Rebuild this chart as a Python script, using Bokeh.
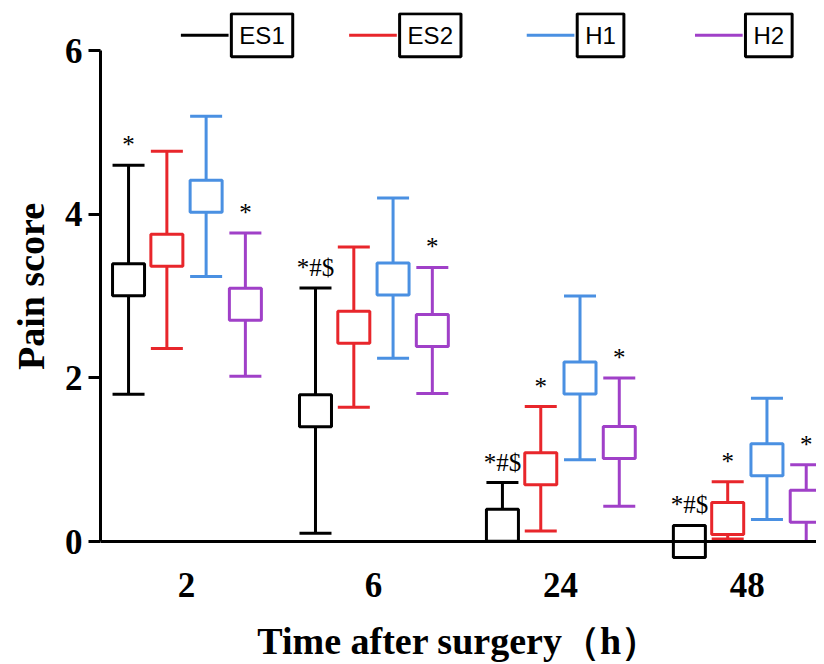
from bokeh.plotting import figure
from bokeh.models import Range1d, FixedTicker, Label, BoxAnnotation, Span
from bokeh.core.properties import value
from bokeh.embed import file_html
from bokeh.resources import INLINE

times = ["2", "6", "24", "48"]
groups = ["ES1", "ES2", "H1", "H2"]
colors = ["#000000", "#E8262B", "#4A90E2", "#A040C8"]

es1_mean = [3.2, 1.6, 0.2, 0.0]
es1_up = [4.6, 3.1, 0.72, 0.0]
es1_lo = [1.8, 0.1, 0.0, 0.0]

es2_mean = [3.56, 2.62, 0.89, 0.28]
es2_up = [4.77, 3.6, 1.65, 0.73]
es2_lo = [2.36, 1.64, 0.13, 0.03]

h1_mean = [4.22, 3.21, 2.0, 1.0]
h1_up = [5.2, 4.2, 3.0, 1.75]
h1_lo = [3.24, 2.24, 1.0, 0.27]

h2_mean = [2.9, 2.58, 1.21, 0.43]
h2_up = [3.77, 3.35, 2.0, 0.94]
h2_lo = [2.02, 1.81, 0.43, 0.0]

marks = [
    ["*", "*#$", "*#$", "*#$"],
    ["", "", "*", "*"],
    ["", "", "", ""],
    ["*", "*", "*", "*"],
]

means = [es1_mean, es2_mean, h1_mean, h2_mean]
ups = [es1_up, es2_up, h1_up, h2_up]
los = [es1_lo, es2_lo, h1_lo, h2_lo]
offsets = [-0.31, -0.105, 0.105, 0.315]

W, H = 816, 656
LEFT, TOP = 100, 12
p = figure(width=W, height=H, output_backend="svg", toolbar_location=None,
           x_range=Range1d(-0.46, 3.37), y_range=Range1d(-0.232, 6.467),
           min_border_left=LEFT, min_border_right=0, min_border_top=TOP,
           min_border_bottom=H - TOP - 548)
p.frame_width = W - LEFT
p.frame_height = 548
p.outline_line_color = None
p.grid.visible = False
p.background_fill_color = "white"

for gi in range(4):
    xs = [i + offsets[gi] for i in range(4)]
    c = colors[gi]
    p.segment(x0=xs, x1=xs, y0=los[gi], y1=ups[gi], line_color=c, line_width=3)
    p.scatter(x=xs, y=ups[gi], marker="dash", size=32, line_color=c, line_width=3)
    p.scatter(x=xs, y=los[gi], marker="dash", size=32, line_color=c, line_width=3)

# x axis line at zero
p.add_layout(Span(location=0, dimension="width", line_color="black", line_width=3))

for gi in range(4):
    xs = [i + offsets[gi] for i in range(4)]
    c = colors[gi]
    p.scatter(x=xs, y=means[gi], marker="square", size=32, line_color=c,
              fill_color="white", line_width=3)
    for i in range(4):
        t = marks[gi][i]
        if t:
            anchor = max(ups[gi][i], means[gi][i] + 0.2)
            p.text(x=[xs[i]], y=[anchor], text=[t], text_align="center",
                   text_baseline="bottom", y_offset=-7,
                   text_font=value("Liberation Serif"), text_font_size="25px",
                   text_color="black")

# axes
p.xaxis.ticker = FixedTicker(ticks=[0, 1, 2, 3])
p.xaxis.major_label_overrides = {i: t for i, t in enumerate(times)}
p.xaxis.axis_line_color = None
p.xaxis.major_tick_line_color = None
p.xaxis.minor_tick_line_color = None
p.xaxis.major_label_standoff = 6
p.xaxis.major_label_text_font = "Liberation Serif"
p.xaxis.major_label_text_font_style = "bold"
p.xaxis.major_label_text_font_size = "35px"
p.xaxis.major_label_text_color = "black"
p.xaxis.axis_label = "Time after surgery（h）"
p.xaxis.axis_label_text_font = "Liberation Serif"
p.xaxis.axis_label_text_font_style = "bold"
p.xaxis.axis_label_text_font_size = "38px"
p.xaxis.axis_label_text_color = "black"
p.xaxis.axis_label_standoff = 20

p.yaxis.ticker = FixedTicker(ticks=[0, 2, 4, 6])
p.yaxis.bounds = (0, 6)
p.yaxis.axis_line_width = 3
p.yaxis.axis_line_color = "black"
p.yaxis.major_tick_line_width = 3
p.yaxis.major_tick_line_color = "black"
p.yaxis.major_tick_out = 12
p.yaxis.major_tick_in = 0
p.yaxis.minor_tick_line_color = None
p.yaxis.major_label_standoff = 6
p.yaxis.major_label_text_font = "Liberation Serif"
p.yaxis.major_label_text_font_style = "bold"
p.yaxis.major_label_text_font_size = "35px"
p.yaxis.major_label_text_color = "black"
p.yaxis.axis_label = "Pain score"
p.yaxis.axis_label_text_font = "Liberation Serif"
p.yaxis.axis_label_text_font_style = "bold"
p.yaxis.axis_label_text_font_size = "38px"
p.yaxis.axis_label_text_color = "black"
p.yaxis.axis_label_standoff = 10

# legend (manual): short coloured line + boxed label
leg_x = [0.0, 0.9, 1.85, 2.75]
leg_y = 6.19
for gi in range(4):
    x0 = leg_x[gi] - 0.03
    p.add_layout(BoxAnnotation(left=x0, right=x0 + 0.255, bottom=leg_y - 0.018,
                               top=leg_y + 0.018, fill_color=colors[gi],
                               fill_alpha=1, line_color=None))
    p.add_layout(Label(x=x0 + 0.27, y=leg_y, text=groups[gi], text_baseline="middle",
                       text_align="left", text_font="Liberation Sans",
                       text_font_size="24px", text_color="black",
                       border_line_color="black", border_line_width=3,
                       background_fill_color="white", padding=8))

open("out.html", "w").write(file_html(p, INLINE))
